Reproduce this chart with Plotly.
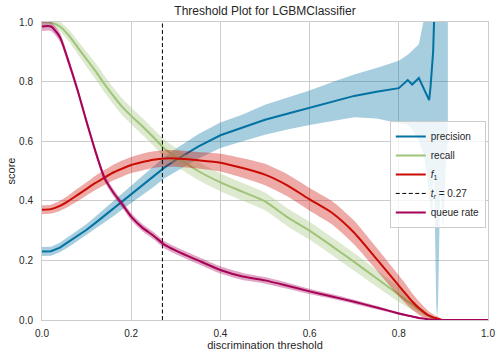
import plotly.graph_objects as go

# ---------------- data ----------------
thresholds = [0.00, 0.02, 0.04, 0.06, 0.08, 0.10, 0.12, 0.14, 0.16, 0.18, 0.20,
              0.225, 0.25, 0.275, 0.30, 0.35, 0.40, 0.45, 0.50, 0.55, 0.60,
              0.65, 0.70, 0.75, 0.80, 0.82, 0.83, 0.845, 0.855, 0.862, 0.868,
              0.871, 0.875, 0.877, 0.879, 0.884, 0.886, 0.888, 0.893, 0.90,
              0.905, 0.91, 0.95, 1.00]

precision = [0.230, 0.231, 0.243, 0.262, 0.283, 0.303, 0.326, 0.350, 0.373, 0.398, 0.423,
             0.452, 0.480, 0.512, 0.537, 0.582, 0.620, 0.645, 0.672, 0.692, 0.712,
             0.733, 0.752, 0.766, 0.778, 0.805, 0.790, 0.812, 0.782, 0.757, 0.738,
             0.780, 0.850, 0.900, 1.000, None, None, None, None, None,
             None, None, None, None]
precision_lo = [0.215, 0.216, 0.227, 0.245, 0.265, 0.284, 0.305, 0.327, 0.348, 0.371, 0.394,
                0.420, 0.446, 0.476, 0.499, 0.541, 0.577, 0.600, 0.622, 0.639, 0.654,
                0.668, 0.680, 0.676, 0.660, 0.655, 0.640, 0.600, 0.560, 0.500, 0.420,
                0.380, 0.335, 0.450, 0.500, 0.050, 0.000, 0.060, 0.450, 0.300,
                0.500, 0.600, None, None]
precision_hi = [0.245, 0.246, 0.259, 0.279, 0.301, 0.322, 0.347, 0.373, 0.398, 0.425, 0.452,
                0.484, 0.514, 0.548, 0.575, 0.623, 0.663, 0.690, 0.722, 0.745, 0.770,
                0.798, 0.824, 0.846, 0.870, 0.890, 0.905, 0.925, 1.000, 1.000, 1.000,
                1.000, 1.000, 1.000, 1.000, 1.000, 1.000, 1.000, 1.000, 1.000,
                1.000, 1.000, None, None]

recall = [1.000, 0.998, 0.985, 0.955, 0.915, 0.875, 0.835, 0.792, 0.752, 0.715, 0.685,
          0.650, 0.613, 0.575, 0.548, 0.500, 0.462, 0.430, 0.398, 0.345, 0.300,
          0.248, 0.195, 0.140, 0.085, 0.062, 0.052, 0.035, 0.025, 0.018, 0.013,
          0.011, 0.008, 0.007, 0.006, 0.004, 0.003, 0.002, 0.001, 0.000,
          0.000, 0.000, 0.000, 0.000]
recall_err = [0.012, 0.012, 0.015, 0.020, 0.022, 0.025, 0.027, 0.028, 0.028, 0.028, 0.028,
              0.028, 0.028, 0.029, 0.030, 0.030, 0.030, 0.030, 0.030, 0.030, 0.030,
              0.030, 0.030, 0.028, 0.025, 0.020, 0.017, 0.012, 0.009, 0.007, 0.005,
              0.004, 0.004, 0.003, 0.003, 0.002, 0.002, 0.001, 0.001, 0.000,
              0.000, 0.000, 0.000, 0.000]

f1 = [0.370, 0.372, 0.383, 0.400, 0.420, 0.440, 0.460, 0.478, 0.495, 0.508, 0.520,
      0.530, 0.538, 0.542, 0.542, 0.536, 0.528, 0.510, 0.488, 0.452, 0.405,
      0.360, 0.293, 0.205, 0.115, 0.080, 0.062, 0.040, 0.028, 0.020, 0.015,
      0.013, 0.010, 0.009, 0.008, 0.006, 0.005, 0.004, 0.002, 0.000,
      0.000, 0.000, 0.000, 0.000]
f1_err = [0.015, 0.015, 0.017, 0.019, 0.021, 0.022, 0.024, 0.025, 0.026, 0.027, 0.027,
          0.028, 0.028, 0.028, 0.028, 0.028, 0.030, 0.033, 0.036, 0.037, 0.038,
          0.039, 0.040, 0.038, 0.035, 0.031, 0.028, 0.023, 0.019, 0.016, 0.013,
          0.012, 0.011, 0.010, 0.009, 0.008, 0.007, 0.006, 0.004, 0.002,
          0.001, 0.000, 0.000, 0.000]

queue_rate = [0.985, 0.985, 0.950, 0.865, 0.770, 0.665, 0.565, 0.477, 0.428, 0.388, 0.347,
              0.310, 0.283, 0.252, 0.233, 0.200, 0.168, 0.146, 0.133, 0.115, 0.096,
              0.079, 0.061, 0.042, 0.022, 0.015, 0.012, 0.007, 0.005, 0.003, 0.002,
              0.002, 0.001, 0.001, 0.001, 0.000, 0.000, 0.000, 0.000, 0.000,
              0.000, 0.000, 0.000, 0.000]
queue_err = [0.015, 0.015, 0.015, 0.014, 0.013, 0.013, 0.012, 0.012, 0.012, 0.012, 0.012,
             0.012, 0.012, 0.012, 0.012, 0.012, 0.012, 0.012, 0.011, 0.010, 0.009,
             0.008, 0.007, 0.006, 0.004, 0.003, 0.003, 0.002, 0.001, 0.001, 0.001,
             0.000, 0.000, 0.000, 0.000, 0.000, 0.000, 0.000, 0.000, 0.000,
             0.000, 0.000, 0.000, 0.000]

best_threshold = 0.27

x_ticks = [0.0, 0.2, 0.4, 0.6, 0.8, 1.0]
y_ticks = [0.0, 0.2, 0.4, 0.6, 0.8, 1.0]

title_text = "Threshold Plot for LGBMClassifier"
x_title = "discrimination threshold"
y_title = "score"

# ---------------- styling ----------------
C_PREC = "#0272a2"
C_REC = "#9fc377"
C_F1 = "#ca0b03"
C_QUEUE = "#a50258"
FONT = "Liberation Sans, Arial, sans-serif"


def rgba(hex_color, a):
    h = hex_color.lstrip("#")
    r, g, b = int(h[0:2], 16), int(h[2:4], 16), int(h[4:6], 16)
    return f"rgba({r},{g},{b},{a})"


def band_trace(xs, lo, hi, color, shape):
    pts = [(x, l, h) for x, l, h in zip(xs, lo, hi) if l is not None and h is not None]
    bx = [p[0] for p in pts] + [p[0] for p in reversed(pts)]
    by = [p[2] for p in pts] + [p[1] for p in reversed(pts)]
    return go.Scatter(x=bx, y=by, fill="toself", fillcolor=rgba(color, 0.35),
                      line=dict(width=0, shape=shape, smoothing=0.6), mode="lines",
                      showlegend=False, hoverinfo="skip")


def sym(vals, err, sign):
    return [v + sign * e for v, e in zip(vals, err)]


fig = go.Figure()

# precision
fig.add_trace(band_trace(thresholds, precision_lo, precision_hi, C_PREC, "linear"))
fig.add_trace(go.Scatter(x=thresholds, y=precision, mode="lines", name="precision",
                         line=dict(color=C_PREC, width=2), connectgaps=False))
# recall
fig.add_trace(band_trace(thresholds, sym(recall, recall_err, -1), sym(recall, recall_err, 1), C_REC, "spline"))
fig.add_trace(go.Scatter(x=thresholds, y=recall, mode="lines", name="recall",
                         line=dict(color=C_REC, width=2, shape="spline", smoothing=0.6)))
# f1
fig.add_trace(band_trace(thresholds, sym(f1, f1_err, -1), sym(f1, f1_err, 1), C_F1, "spline"))
fig.add_trace(go.Scatter(x=thresholds, y=f1, mode="lines", name="<i>f</i><sub>1</sub>",
                         line=dict(color=C_F1, width=2, shape="spline", smoothing=0.6)))
# threshold line
fig.add_trace(go.Scatter(x=[best_threshold, best_threshold], y=[0, 1], mode="lines",
                         name=f"<i>t<sub>r</sub></i> = {best_threshold:.2f}",
                         line=dict(color="black", width=1, dash="4px,2.5px")))
# queue rate
fig.add_trace(band_trace(thresholds, sym(queue_rate, queue_err, -1), sym(queue_rate, queue_err, 1), C_QUEUE, "spline"))
fig.add_trace(go.Scatter(x=thresholds, y=queue_rate, mode="lines", name="queue rate",
                         line=dict(color=C_QUEUE, width=2, shape="spline", smoothing=0.6)))

axis_common = dict(
    showgrid=True, gridcolor="#cccccc", gridwidth=1,
    showline=True, linecolor="#cccccc", linewidth=1, mirror=True,
    zeroline=False, ticks="", tickfont=dict(family=FONT, size=10, color="#262626"),
    tickformat=".1f", automargin=False,
)

fig.update_layout(
    width=502, height=357,
    margin=dict(l=42, r=14, t=22, b=37),
    paper_bgcolor="white", plot_bgcolor="white",
    font=dict(family=FONT, color="#262626"),
    title=dict(text=title_text, x=0.5, xref="paper", xanchor="center",
               y=1 - 11 / 357, yanchor="middle", font=dict(family=FONT, size=12, color="#262626")),
    xaxis=dict(range=[0, 1], tickvals=x_ticks, ticklabelstandoff=4,
               title=dict(text=x_title, font=dict(family=FONT, size=11, color="#262626"), standoff=2),
               **axis_common),
    yaxis=dict(range=[0, 1], tickvals=y_ticks, ticklabelstandoff=6,
               title=dict(text=y_title, font=dict(family=FONT, size=11, color="#262626"), standoff=1),
               **axis_common),
    legend=dict(x=0.995, xanchor="right", y=0.668, yanchor="top",
                bgcolor="rgba(255,255,255,0.8)", bordercolor="#cccccc", borderwidth=1,
                font=dict(family=FONT, size=10, color="#262626"), tracegroupgap=0,
                itemwidth=30),
    hovermode=False,
)

fig.write_html(
    "out.html",
    config={"responsive": False, "displayModeBar": False, "staticPlot": True},
    post_script="document.body.style.margin='0px';document.body.style.overflow='hidden';",
)
